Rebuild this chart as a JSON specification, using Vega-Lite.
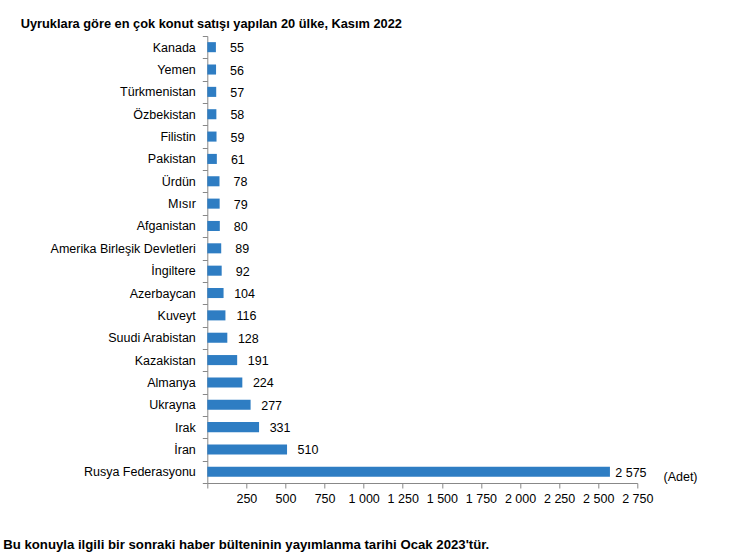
{
  "$schema": "https://vega.github.io/schema/vega-lite/v6.json",
  "autosize": {"type": "none"},
  "width": 430,
  "height": 447,
  "padding": {"left": 207.3, "top": 36, "right": 103.7, "bottom": 77},
  "background": "white",
  "title": {
    "text": "Uyruklara göre en çok konut satışı yapılan 20 ülke, Kasım 2022",
    "anchor": "start",
    "frame": "group",
    "dx": -186.6,
    "dy": 22,
    "font": "Liberation Sans, Arial",
    "fontSize": 12.8,
    "fontWeight": "bold",
    "color": "#000000",
    "baseline": "alphabetic",
    "offset": 11
  },
  "config": {
    "view": {"stroke": null},
    "locale": {"number": {"decimal": ",", "thousands": " ", "grouping": [3], "currency": ["", ""]}},
    "font": "Liberation Sans, Arial"
  },
  "data": {
    "values": [
      {"country": "Kanada", "sales": 55},
      {"country": "Yemen", "sales": 56},
      {"country": "Türkmenistan", "sales": 57},
      {"country": "Özbekistan", "sales": 58},
      {"country": "Filistin", "sales": 59},
      {"country": "Pakistan", "sales": 61},
      {"country": "Ürdün", "sales": 78},
      {"country": "Mısır", "sales": 79},
      {"country": "Afganistan", "sales": 80},
      {"country": "Amerika Birleşik Devletleri", "sales": 89},
      {"country": "İngiltere", "sales": 92},
      {"country": "Azerbaycan", "sales": 104},
      {"country": "Kuveyt", "sales": 116},
      {"country": "Suudi Arabistan", "sales": 128},
      {"country": "Kazakistan", "sales": 191},
      {"country": "Almanya", "sales": 224},
      {"country": "Ukrayna", "sales": 277},
      {"country": "Irak", "sales": 331},
      {"country": "İran", "sales": 510},
      {"country": "Rusya Federasyonu", "sales": 2575}
    ]
  },
  "encoding": {
    "y": {
      "field": "country",
      "type": "nominal",
      "sort": null,
      "scale": {"paddingInner": 0, "paddingOuter": 0},
      "axis": {
        "title": "Bu konuyla ilgili bir sonraki haber bülteninin yayımlanma tarihi Ocak 2023'tür.",
        "titleAngle": 0,
        "titleX": -204.6,
        "titleY": 512.3,
        "titleAlign": "left",
        "titleBaseline": "alphabetic",
        "titleFont": "Liberation Sans, Arial",
        "titleFontSize": 13.2,
        "titleFontWeight": "bold",
        "titleColor": "#000000",
        "tickBand": "extent",
        "tickSize": 5,
        "tickColor": "#888888",
        "domainColor": "#888888",
        "labelFont": "Liberation Sans, Arial",
        "labelFontSize": 12.5,
        "labelColor": "#000000",
        "labelPadding": 7,
        "grid": false
      }
    },
    "x": {
      "field": "sales",
      "type": "quantitative",
      "scale": {"domain": [0, 2750], "nice": false},
      "axis": {
        "title": "(Adet)",
        "titleX": 472.7,
        "titleY": -7,
        "titleAlign": "center",
        "titleBaseline": "middle",
        "titleFont": "Liberation Sans, Arial",
        "titleFontSize": 12.5,
        "titleFontWeight": "normal",
        "titleColor": "#000000",
        "values": [0, 250, 500, 750, 1000, 1250, 1500, 1750, 2000, 2250, 2500, 2750],
        "format": ",d",
        "labelExpr": "datum.value == 0 ? '' : datum.label",
        "labelDx": 3,
        "labelFont": "Liberation Sans, Arial",
        "labelFontSize": 12.5,
        "labelColor": "#000000",
        "labelPadding": 4,
        "labelFlush": false,
        "labelOverlap": false,
        "tickSize": 5,
        "tickColor": "#888888",
        "domainColor": "#888888",
        "grid": false
      }
    }
  },
  "layer": [
    {
      "mark": {"type": "bar", "color": "#2E7DC3", "height": {"band": 0.45}}
    },
    {
      "mark": {"type": "text", "align": "center", "baseline": "middle", "dx": 21, "dy": 1, "fontSize": 12.5, "font": "Liberation Sans, Arial", "color": "#000000"},
      "encoding": {
        "text": {"field": "sales", "type": "quantitative", "format": ",d"}
      }
    }
  ]
}
